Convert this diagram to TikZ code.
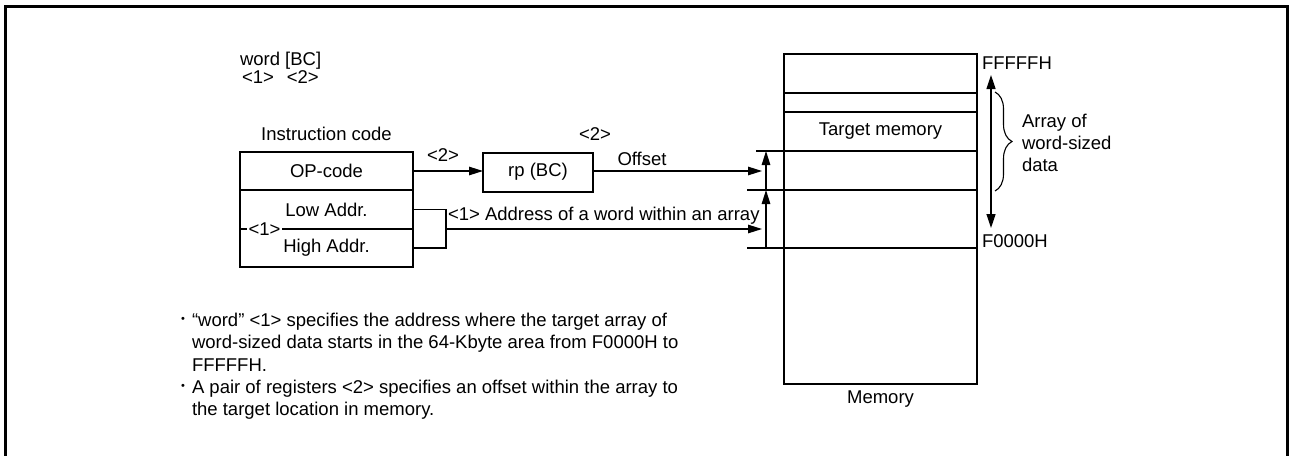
\documentclass[tikz,border=0pt]{standalone}
\usepackage{fontspec}
\setmainfont{Liberation Sans}
\usetikzlibrary{arrows.meta,decorations.pathreplacing}
\begin{document}
\begin{tikzpicture}[x=1pt,y=-1pt,
  txt/.style={font=\fontsize{18.5}{22.3}\selectfont, inner sep=0pt, outer sep=0pt},
  cell/.style={txt, minimum width=173pt},
  mcell/.style={txt, minimum width=193pt},
  boxline/.style={line width=2pt},
  thinline/.style={line width=1.3pt},
  arr/.style={thinline, -{Triangle[length=14pt,width=8.5pt]}},
  dblarr/.style={thinline, {Triangle[length=14pt,width=9pt]}-{Triangle[length=14pt,width=9pt]}},
  line join=miter
]
\useasboundingbox (0,0) rectangle (1289,455);
% outer frame (open at the bottom)
\draw[line width=2.8pt] (5.3,456) -- (5.3,6.2) -- (1287.8,6.2) -- (1287.8,456);

% instruction syntax
\node[txt, anchor=base west] (syn) at (240,65) {word [BC]};
\node[txt, anchor=base west] (synnum) at (242,83) {<1>\hspace{13pt}<2>};

% instruction code
\node[txt, anchor=base] (ictitle) at (326.5,140) {Instruction code};
\node[cell, minimum height=38pt] (op) at (326.5,171) {OP-code};
\node[cell, minimum height=39pt] (low) at (326.5,209.5) {Low Addr.};
\node[cell, minimum height=38pt] (high) at (326.5,248) {High Addr.};
\draw[boxline] (op.north west) rectangle (high.south east);
\draw[boxline] (op.south west) -- (op.south east);
\draw[thinline] (low.south west) -- (low.south east);
\node[txt, fill=white, inner xsep=1.5pt] (one) at (264.5,229) {<1>};

% register pair
\node[txt, draw, boxline, minimum width=110pt, minimum height=39pt] (rp) at (538,172) {rp (BC)};
\draw[arr] (op.east) -- (op.east -| rp.west);
\node[txt, anchor=base] (lbltwo) at (443,161) {<2>};
\node[txt, anchor=base] (lbltwob) at (595,140) {<2>};

% memory
\node[mcell, minimum height=39pt] (m1) at (880.5,73.5) {};
\node[mcell, minimum height=19pt] (m2) at (880.5,102.5) {};
\node[mcell, minimum height=39pt] (m3) at (880.5,131.5) {Target memory};
\node[mcell, minimum height=39pt] (m4) at (880.5,170.5) {};
\node[mcell, minimum height=58pt] (m5) at (880.5,219) {};
\node[mcell, minimum height=136pt] (m6) at (880.5,316) {};
\draw[thinline] (m1.south west) -- (m1.south east);
\draw[thinline] (m2.south west) -- (m2.south east);
\draw[thinline] (m3.south west) -- (m3.south east);
\draw[thinline] (m4.south west) -- (m4.south east);
\draw[thinline] (m5.south west) -- (m5.south east);
\draw[boxline] (m1.north west) rectangle (m6.south east);
\node[txt, anchor=base] (memlbl) at (880.5,403) {Memory};

% offset connector
\coordinate (offend) at (762,171);
\draw[arr] (rp.east |- offend) -- (offend);
\node[txt, anchor=base] (offlbl) at (642,165) {Offset};

% address connector
\coordinate (brk) at (446,229);
\coordinate (addrend) at (762,229);
\draw[thinline] (low.east) -| (brk) |- (high.east);
\draw[arr] (brk) -- (addrend);
\node[txt, anchor=base west] (addrlbl) at (448,220) {<1> Address of a word within an array};

% dimension marks
\coordinate (t2) at (756,151);
\coordinate (t1) at (747,190);
\coordinate (t0) at (747,248);
\draw[thinline] (t2) -- (m3.south west);
\draw[thinline] (t1) -- (m4.south west);
\draw[thinline] (t0) -- (m5.south west);
\coordinate (d0) at (766,248);
\coordinate (d1) at (766,190);
\coordinate (d2) at (766,151);
\draw[arr] (d0) -- (d1);
\draw[arr] (d1) -- (d2);

% address range
\node[txt, anchor=base west] (ftop) at (982,69) {FFFFFH};
\node[txt, anchor=base west] (fbot) at (982,247) {F0000H};
\coordinate (rtop) at (991,75);
\coordinate (rbot) at (991,228);
\draw[dblarr] (rtop) -- (rbot);
\coordinate (bt) at (995,92);
\coordinate (bb) at (995,191);
\draw[thinline, line width=1.1pt, decorate, decoration={brace, amplitude=17pt, aspect=0.5}] (bt) -- (bb);
\node[txt, anchor=base west] (arr1) at (1022,127) {Array of};
\node[txt, anchor=base west] (arr2) at (1022,149) {word-sized};
\node[txt, anchor=base west] (arr3) at (1022,171) {data};

% notes
\node[txt, font=\fontsize{11}{13}\selectfont, anchor=center] (b1) at (183,320) {•};
\node[txt, anchor=north west, align=left] (note1) at (192,313)
  {“word” <1> specifies the address where the target array of\\
   word-sized data starts in the 64-Kbyte area from F0000H to\\
   FFFFFH.};
\node[txt, font=\fontsize{11}{13}\selectfont, anchor=center] (b2) at (183,387) {•};
\node[txt, anchor=north west, align=left] (note2) at (192,380)
  {A pair of registers <2> specifies an offset within the array to\\
   the target location in memory.};
\end{tikzpicture}
\end{document}
